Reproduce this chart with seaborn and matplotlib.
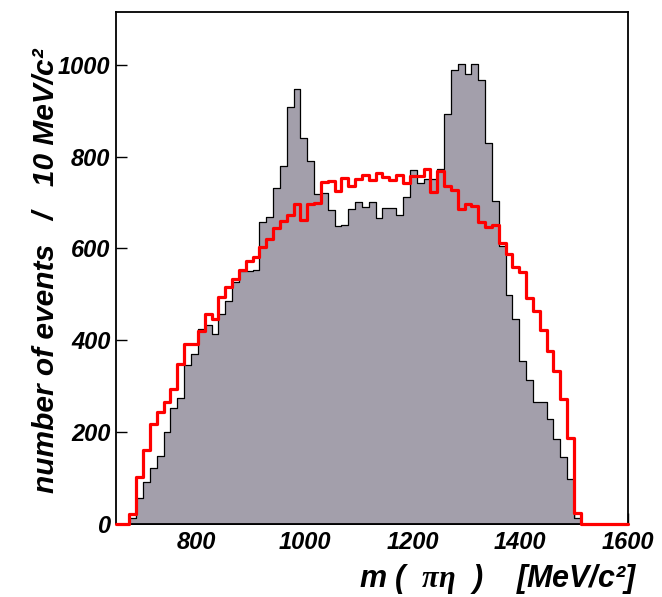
import numpy as np
import pandas as pd
import matplotlib
matplotlib.use("Agg")
import matplotlib.pyplot as plt
import seaborn as sns

# bin layout (MeV/c^2)
bin_start = 675.0
bin_stop = 1512.5
x_range = (650, 1600)

# grey filled histogram (data), counts per bin
data_counts = [12, 56, 92, 122, 149, 200, 253, 275, 346, 370,
               424, 433, 414, 458, 486, 527, 550, 551, 553, 657,
               668, 731, 779, 909, 947, 841, 791, 719, 720, 684,
               650, 651, 686, 702, 690, 702, 666, 688, 688, 672,
               712, 770, 743, 751, 751, 773, 893, 989, 1001, 980,
               1001, 967, 830, 703, 605, 498, 446, 355, 314, 266,
               266, 228, 184, 146, 99, 12]

# red line histogram (phase space / MC), counts per bin
mc_counts = [22, 103, 161, 217, 243, 266, 293, 348, 393, 392,
             420, 457, 446, 494, 516, 534, 554, 573, 582, 603,
             620, 645, 659, 673, 697, 663, 697, 699, 744, 747,
             725, 754, 737, 752, 759, 749, 764, 755, 749, 759,
             743, 757, 757, 772, 722, 769, 735, 728, 686, 696,
             693, 657, 646, 652, 613, 587, 560, 549, 492, 464,
             423, 376, 333, 273, 188, 23]

x_ticks = [800, 1000, 1200, 1400, 1600]
y_ticks = [0, 200, 400, 600, 800, 1000]

n_bins = len(data_counts)
edges = np.linspace(bin_start, bin_stop, n_bins + 1)
centers = 0.5 * (edges[:-1] + edges[1:])
df = pd.DataFrame({"mass": centers, "data": data_counts, "mc": mc_counts})

# the red curve runs along the axis outside the filled range, so pad with empty bins
mc_edges = [x_range[0]] + edges.tolist() + [x_range[1]]

sns.set_style("ticks")
plt.rcParams["font.family"] = ["Liberation Sans", "DejaVu Sans"]
plt.rcParams["font.weight"] = "bold"
plt.rcParams["font.style"] = "italic"
plt.rcParams["text.color"] = "black"
plt.rcParams["xtick.color"] = "black"
plt.rcParams["ytick.color"] = "black"
plt.rcParams["mathtext.fontset"] = "custom"
plt.rcParams["mathtext.rm"] = "Liberation Serif"
plt.rcParams["mathtext.it"] = "Liberation Serif:italic"
plt.rcParams["mathtext.bf"] = "Liberation Serif:bold"

fig = plt.figure(figsize=(6.62, 5.97), dpi=100)
ax = fig.add_axes([0.1752, 0.1223, 0.9486 - 0.1752, 0.9799 - 0.1223])

sns.histplot(data=df, x="mass", weights="data", bins=edges.tolist(), element="step",
             fill=True, color="#a39fab", alpha=1.0, edgecolor="black",
             linewidth=0.9, ax=ax)
sns.histplot(data=df, x="mass", weights="mc", bins=mc_edges, element="step",
             fill=False, color="#ff0000", linewidth=2.3, zorder=3,
             clip_on=False, ax=ax)

ax.set_xlim(*x_range)
ax.set_ylim(0, 1115)
ax.set_xticks(x_ticks)
ax.set_xticks(np.arange(700, 1600, 200), minor=True)
ax.set_yticks(y_ticks)
ax.tick_params(axis="both", which="both", direction="in", length=8, width=1.0,
               labelsize=17, top=False, right=False, colors="black")
ax.tick_params(axis="x", pad=5)
ax.tick_params(axis="y", pad=4)
for lab in ax.get_xticklabels() + ax.get_yticklabels():
    lab.set_fontweight("bold")
    lab.set_fontstyle("italic")
for s in ax.spines.values():
    s.set_visible(True)
    s.set_linewidth(1.3)
    s.set_color("black")
ax.set_xlabel("")
ax.set_ylabel("")

fig.text(638 / 662, 1 - 579 / 597, r"m (  $\mathrm{\pi\eta}$  )    [MeV/c²]",
         ha="right", va="center", fontsize=22, fontweight="bold",
         fontstyle="italic")
fig.text(46 / 662, 1 - 48 / 597, "number of events   /   10 MeV/c²",
         rotation=90, ha="center", va="top", fontsize=21.5, fontweight="bold",
         fontstyle="italic")

fig.savefig("out.png", dpi=100)
